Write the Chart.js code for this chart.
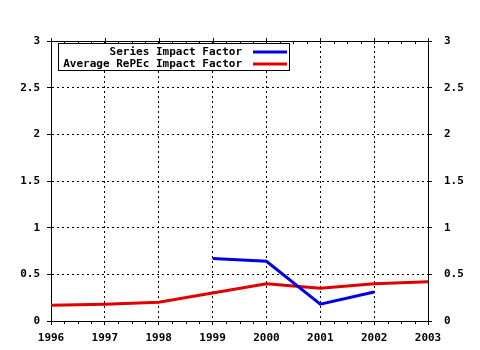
<!DOCTYPE html>
<html>
<head>
<meta charset="utf-8">
<script src="https://cdn.jsdelivr.net/npm/chart.js@4/dist/chart.umd.min.js"></script>
<style>
  body { margin: 0; background: #fff; }
  #wrap { width: 480px; height: 350px; }
</style>
</head>
<body>
<div id="wrap"><canvas id="chart" width="480" height="350"></canvas></div>
<script>
const years = [1996, 1997, 1998, 1999, 2000, 2001, 2002, 2003]
const repecImpact = [0.17, 0.18, 0.20, 0.30, 0.40, 0.35, 0.40, 0.42]
const seriesYears = [1999, 2000, 2001, 2002]
const seriesImpact = [0.67, 0.64, 0.18, 0.31]
const yTicks = [0, 0.5, 1, 1.5, 2, 2.5, 3]

const FONT = { family: 'DejaVu Sans Mono', size: 11, weight: 'bold' }

const toPoints = (xs, ys) => xs.map((x, i) => ({ x, y: ys[i] }))

// frame, minor ticks and the boxed legend inside the plot
const framePlugin = {
  id: 'frame',
  afterDraw(chart) {
    const { ctx, chartArea: a, scales } = chart
    ctx.save()
    ctx.strokeStyle = '#000'
    ctx.lineWidth = 1
    ctx.setLineDash([])
    ctx.beginPath()
    ctx.moveTo(a.left, a.top + 0.5)
    ctx.lineTo(a.right, a.top + 0.5)
    for (let y = years[0]; y <= years[years.length - 1]; y += 0.25) {
      const px = Math.round(scales.x.getPixelForValue(y)) + 0.5
      if (Number.isInteger(y)) {
        ctx.moveTo(px, a.top - 3)
        ctx.lineTo(px, a.top + 3)
      } else {
        ctx.moveTo(px, a.top)
        ctx.lineTo(px, a.top + 3)
        ctx.moveTo(px, a.bottom)
        ctx.lineTo(px, a.bottom + 3)
      }
    }
    ctx.stroke()

    // legend
    const bx = 58.5, by = 43.5, bw = 231, bh = 27
    ctx.fillStyle = '#fff'
    ctx.fillRect(bx, by, bw, bh)
    ctx.strokeRect(bx, by, bw, bh)
    ctx.font = `${FONT.weight} ${FONT.size}px ${FONT.family}`
    ctx.textAlign = 'right'
    ctx.textBaseline = 'middle'
    chart.data.datasets.forEach((ds, i) => {
      const cy = 52 + i * 12
      ctx.fillStyle = '#000'
      ctx.fillText(ds.label, 242, cy)
      ctx.strokeStyle = ds.borderColor
      ctx.lineWidth = 3
      ctx.beginPath()
      ctx.moveTo(253, cy)
      ctx.lineTo(287, cy)
      ctx.stroke()
    })
    ctx.restore()
  },
}

const gridOpts = {
  color: '#000',
  drawTicks: true,
  tickLength: 4,
  tickBorderDash: [],
  tickColor: '#000',
}

new Chart(document.getElementById('chart'), {
  type: 'line',
  data: {
    datasets: [
      {
        label: 'Series Impact Factor',
        data: toPoints(seriesYears, seriesImpact),
        borderColor: '#0000e0',
        borderWidth: 3,
        pointRadius: 0,
        tension: 0,
      },
      {
        label: 'Average RePEc Impact Factor',
        data: toPoints(years, repecImpact),
        borderColor: '#e00000',
        borderWidth: 3,
        pointRadius: 0,
        tension: 0,
      },
    ],
  },
  options: {
    responsive: false,
    animation: false,
    layout: { padding: { top: 41, left: 0, right: 0, bottom: 0 } },
    plugins: { legend: { display: false }, tooltip: { enabled: false } },
    scales: {
      x: {
        type: 'linear',
        min: years[0],
        max: years[years.length - 1],
        afterBuildTicks: (s) => { s.ticks = years.map((v) => ({ value: v })) },
        afterFit: (s) => { s.height = 29 },
        ticks: { color: '#000', font: FONT, padding: 7, maxRotation: 0, callback: (v) => String(v) },
        grid: gridOpts,
        border: { color: '#000', width: 1, dash: [2, 3] },
      },
      y: {
        position: 'left',
        min: 0,
        max: 3,
        afterBuildTicks: (s) => { s.ticks = yTicks.map((v) => ({ value: v })) },
        afterFit: (s) => { s.width = 51 },
        ticks: { color: '#000', font: FONT, padding: 7, callback: (v) => String(v) },
        grid: gridOpts,
        border: { color: '#000', width: 1, dash: [2, 3] },
      },
      y2: {
        position: 'right',
        min: 0,
        max: 3,
        afterBuildTicks: (s) => { s.ticks = yTicks.map((v) => ({ value: v })) },
        afterFit: (s) => { s.width = 52 },
        ticks: { color: '#000', font: FONT, padding: 12, callback: (v) => String(v) },
        grid: { ...gridOpts, drawOnChartArea: false },
        border: { color: '#000', width: 1 },
      },
    },
  },
  plugins: [framePlugin],
})
</script>
</body>
</html>
